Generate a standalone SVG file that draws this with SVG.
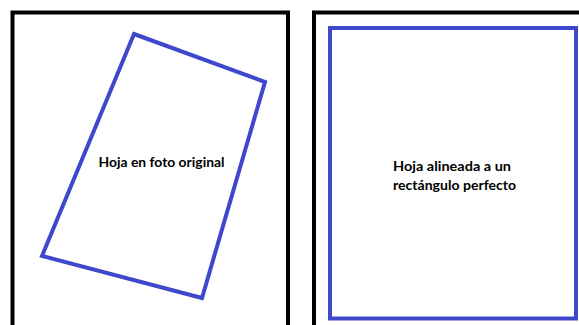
<svg xmlns="http://www.w3.org/2000/svg" width="579" height="325" viewBox="0 0 579 325">
<style>
.frame{fill:none;stroke:#000;stroke-width:4}
.sheet{fill:none;stroke:#3F48CC;stroke-width:4;stroke-linejoin:miter}
.lbl{font-family:Lato,"Liberation Sans",Arial,sans-serif;font-weight:bold;font-size:14px;fill:#000}
</style>
<rect width="579" height="325" fill="#fff"/>
<g id="left-frame">
<rect class="frame" x="12.5" y="12.5" width="275.5" height="330"/>
</g>
<g id="right-frame">
<rect class="frame" x="314" y="12.5" width="280" height="330"/>
</g>
<g id="original-sheet">
<polygon class="sheet" points="134,34 265,82 202,298 42,256"/>
<text class="lbl" x="98.5" y="167" textLength="126" lengthAdjust="spacingAndGlyphs">Hoja en foto original</text>
</g>
<g id="aligned-sheet">
<rect class="sheet" x="330" y="28" width="246" height="290.5" stroke-width="3.5"/>
<text class="lbl" x="393" y="171" textLength="118" lengthAdjust="spacingAndGlyphs">Hoja alineada a un</text>
<text class="lbl" x="393" y="190" textLength="123" lengthAdjust="spacingAndGlyphs">rectángulo perfecto</text>
</g>
<g id="connectors"/>
</svg>
